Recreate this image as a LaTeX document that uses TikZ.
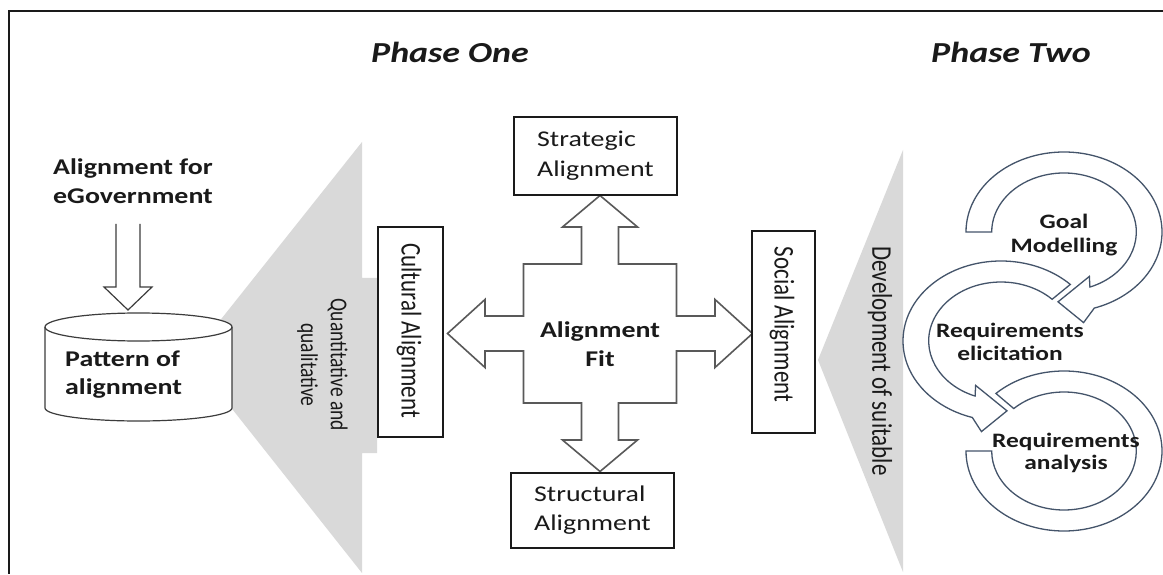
\documentclass[tikz,border=0pt]{standalone}
\usepackage{fontspec}
\usepackage{graphicx}
\setmainfont{Carlito}[FakeStretch=1.24]
\newfontfamily\plainfont{Carlito}
\usetikzlibrary{calc}
\definecolor{ink}{HTML}{1A1A1A}
\definecolor{funnelgray}{HTML}{D9D9D9}
\definecolor{arrowgray}{HTML}{595959}
\definecolor{cycblue}{HTML}{44546A}
\newcommand{\fsz}[2]{\fontsize{#1}{#2}\selectfont}
\newcommand{\vst}[1]{\scalebox{1}[1.24]{#1}}
\tikzset{
  box/.style={draw=ink, line width=1.1pt, fill=white, inner sep=0pt, text=ink},
  lbl/.style={text=ink, inner sep=0pt},
  rot/.style={text=ink, inner sep=0pt, rotate=-90},
  cycarrow/.style={draw=cycblue, line width=1.3pt, fill=white, line join=miter},
  fourway/.style={draw=arrowgray, line width=1.6pt, fill=white, line join=miter},
  hollow/.style={draw=ink!85, line width=1.2pt, fill=white, line join=miter},
  funnel/.style={fill=funnelgray, draw=none},
}
\begin{document}
\begin{tikzpicture}[x=1pt,y=1pt]
\useasboundingbox (0,0) rectangle (1163,574);
\fill[white] (0,0) rectangle (1163,574);
% frame
\draw[ink, line width=1.5pt] (1163,563) -- (9,563) -- (9,0);
% gray funnels
\path[funnel] (362,432) -- (362,296) -- (377,296) -- (377,121) -- (362,121) -- (362,1) -- (191,217) -- cycle;
\path[funnel] (903,424) -- (903,2) -- (818,214) -- cycle;
% phase titles
\node[lbl, anchor=base, font=\bfseries\itshape\fsz{29}{34}] (p1) at (450,511) {Phase One};
\node[lbl, anchor=base, font=\bfseries\itshape\fsz{29}{34}] (p2) at (1011,511) {Phase Two};
% left input
\node[lbl, anchor=west, align=left, font=\bfseries\fsz{22.5}{29}] (egov) at (53,393) {Alignment for\\eGovernment};
% cylinder
\filldraw[fill=white, draw=ink!85, line width=1.2pt] (45,247) -- (45,166)
  arc[start angle=180, end angle=360, x radius=93.5, y radius=13] -- (232,247)
  arc[start angle=0, end angle=180, x radius=93.5, y radius=14] -- cycle;
\draw[ink!85, line width=1.2pt] (45,247) arc[start angle=180, end angle=360, x radius=93.5, y radius=14];
\node[lbl, anchor=west, align=left, font=\bfseries\fsz{22.5}{28}] (pat) at (65,199) {Pattern of\\alignment};
% hollow arrow from input to cylinder
\coordinate (hl) at (116,350);
\coordinate (hr) at (140,350);
\coordinate (htip) at (128,264);
\draw[hollow] (hl) -- (116,287) -- (104,287) -- (htip) -- (152,287) -- (140,287) -- (hr);
% rotated label on left funnel
\node[rot, font=\plainfont\fsz{19.5}{24}] (quant) at (322,209)
  {\vst{\begin{tabular}{@{}c@{}}Quantitative and\\qualitative\end{tabular}}};
% four-way arrow
\draw[fourway, shift={(600,240.5)}]
  (0,138) -- (37.5,106.5) -- (18.5,106.5) -- (18.5,69.5) -- (76.5,69.5) -- (76.5,17.5)
  -- (115,17.5) -- (115,34) -- (152.5,0) -- (115,-34) -- (115,-17.5) -- (76.5,-17.5)
  -- (76.5,-69.5) -- (18.5,-69.5) -- (18.5,-106.5) -- (37.5,-106.5) -- (0,-138)
  -- (-37.5,-106.5) -- (-18.5,-106.5) -- (-18.5,-69.5) -- (-76.5,-69.5) -- (-76.5,-17.5)
  -- (-115,-17.5) -- (-115,-34) -- (-152.5,0) -- (-115,34) -- (-115,17.5) -- (-76.5,17.5)
  -- (-76.5,69.5) -- (-18.5,69.5) -- (-18.5,106.5) -- (-37.5,106.5) -- cycle;
\node[lbl, align=center, font=\bfseries\fsz{22.5}{29}] (fit) at (600,230) {Alignment\\Fit};
% boxes
\node[box, minimum width=163, minimum height=78, align=left, font=\fsz{22.5}{30}] (strat) at (595.5,418) {Strategic\\Alignment};
\node[box, minimum width=163, minimum height=75, align=left, font=\fsz{22.5}{29}] (struct) at (592.5,63.5) {Structural\\Alignment};
\node[box, minimum width=65, minimum height=210] (cult) at (410.5,242) {};
\node[rot, font=\plainfont\fsz{23}{28}] (culttxt) at (409,243.5) {\vst{Cultural Alignment}};
\node[box, minimum width=63, minimum height=202] (soc) at (783.5,242) {};
\node[rot, font=\plainfont\fsz{23}{28}] (soctxt) at (782,249.5) {\vst{Social Alignment}};
% right funnel label
\node[rot, font=\plainfont\fsz{23}{28}] (dev) at (880,213) {\vst{Development of suitable}};
% cycle arrows
\draw[cycarrow] (966,123) arc[start angle=180, end angle=494, x radius=98, y radius=80]
  -- (1013.77,165.44) arc[start angle=494, end angle=180, x radius=72.3, y radius=59] -- cycle;
\draw[cycarrow] (1070.30,289.57) arc[start angle=45, end angle=253, x radius=98, y radius=80]
  -- (981.43,142.40) -- (1006.98,163.17) -- (975.63,188.59) -- (975.09,177.92)
  arc[start angle=249, end angle=45, x radius=72.3, y radius=59] -- cycle;
\draw[cycarrow] (966,342) arc[start angle=180, end angle=-72, x radius=98, y radius=80]
  -- (1083.57,251.40) -- (1058.02,272.17) -- (1089.37,297.59) -- (1089.91,286.92)
  arc[start angle=-69, end angle=180, x radius=72.3, y radius=59] -- cycle;
\node[lbl, align=center, font=\bfseries\fsz{20.5}{24}] (goal) at (1064,339) {Goal\\Modelling};
\node[lbl, align=center, font=\bfseries\fsz{20.5}{23}] (elic) at (1010,232.5) {Requirements\\elicitation};
\node[lbl, align=center, font=\bfseries\fsz{20.5}{22}] (anal) at (1066,121) {Requirements\\analysis};
\end{tikzpicture}
\end{document}
